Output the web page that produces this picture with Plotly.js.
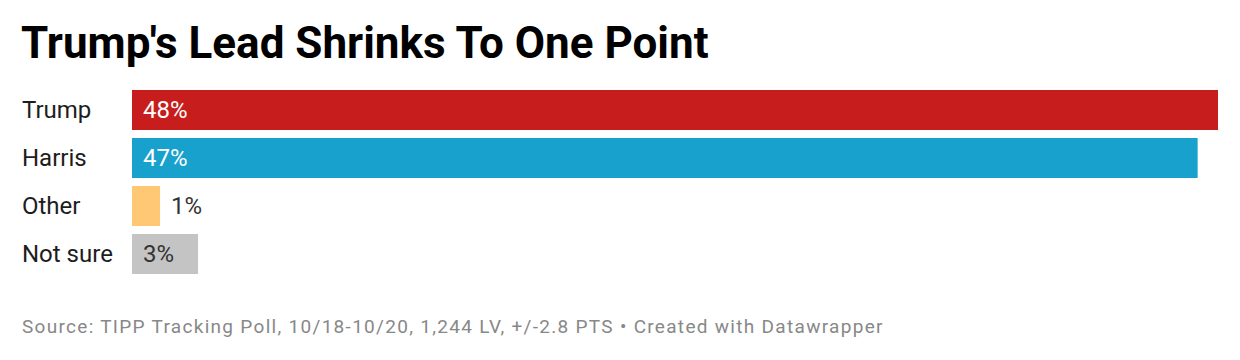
<!DOCTYPE html>
<html><head><meta charset="utf-8">
<script src="https://cdn.plot.ly/plotly-3.0.1.min.js"></script>
<style>html,body{margin:0;padding:0;background:#fff;}#chart{width:1240px;height:360px;}</style>
</head><body><div id="chart"></div>
<script>
const categories = ["Trump", "Harris", "Other", "Not sure"];
const values = [48, 47.1, 1.24, 2.92];
const valueLabels = ["48%", "47%", "1%", "3%"];
const colors = ["#c71e1d", "#18a1cd", "#fec874", "#c4c4c4"];
const labelInside = [true, true, false, true];
const labelColors = ["#ffffff", "#ffffff", "#333333", "#333333"];
const footerText = "Source: TIPP Tracking Poll, 10/18-10/20, 1,244 LV, +/-2.8 PTS • Created with Datawrapper";

const annotations = [];
categories.forEach((c, i) => {
  annotations.push({
    xref: "paper", yref: "y", x: (22 - 132) / 1086, y: c, xshift: -2,
    text: c, showarrow: false, xanchor: "left", yanchor: "middle",
    font: {family: "Roboto", size: 24, color: "#1d1d1d"}
  });
  annotations.push({
    xref: "x", yref: "y", x: labelInside[i] ? 0 : values[i], y: c,
    xshift: 9,
    text: valueLabels[i], showarrow: false, xanchor: "left", yanchor: "middle",
    font: {family: "Roboto", size: 24, color: labelColors[i]}
  });
});
annotations.push({
  xref: "paper", yref: "paper", x: (22 - 132) / 1086, y: (360 - 82 - 326) / 192, xshift: -2,
  text: footerText,
  showarrow: false, xanchor: "left", yanchor: "middle",
  font: {family: "Roboto", size: 19, color: "#888888"}
});

Plotly.newPlot("chart", [{
  type: "bar", orientation: "h",
  y: categories, x: values,
  marker: {color: colors},
  width: 40 / 48,
  hoverinfo: "none"
}], {
  width: 1240, height: 360,
  margin: {l: 132, r: 22, t: 86, b: 82},
  paper_bgcolor: "#fff", plot_bgcolor: "#fff",
  title: {text: "<b>Trump's Lead Shrinks To One Point</b>", x: 21 / 1240, xanchor: "left",
    y: 1 - 42.5 / 360, yanchor: "middle",
    font: {family: "Roboto", size: 44, color: "#000"}},
  xaxis: {range: [0, 48], visible: false, fixedrange: true},
  yaxis: {autorange: "reversed", visible: false, fixedrange: true},
  showlegend: false,
  annotations: annotations
}, {displayModeBar: false, staticPlot: true}).then(gd => {
  gd.querySelectorAll(".annotation-text").forEach(t => {
    if (t.textContent.indexOf("Source:") === 0) {
      t.style.letterSpacing = "1.3px";
      const r = t.getBoundingClientRect();
      const dx = 22 - r.left;
      const x0 = parseFloat(t.getAttribute("x") || "0");
      t.setAttribute("x", x0 + dx);
      t.querySelectorAll("tspan[x]").forEach(s => s.setAttribute("x", parseFloat(s.getAttribute("x")) + dx));
    }
  });
});
</script></body></html>
